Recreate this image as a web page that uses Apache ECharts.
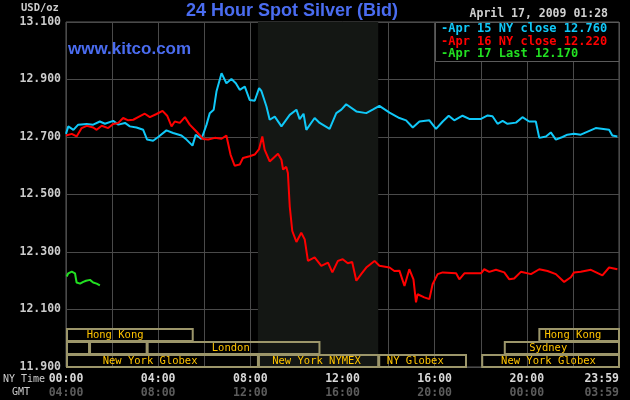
<!DOCTYPE html>
<html>
<head>
<meta charset="utf-8">
<script src="https://cdn.jsdelivr.net/npm/echarts@6/dist/echarts.min.js"></script>
<style>html,body{margin:0;padding:0;background:#000;}#c{width:630px;height:400px;}</style>
</head>
<body>
<div id="c"></div>
<script>
// ---- data (x = hours New York time, y = USD/oz) ----
const apr15 = [[0,12.711],[0.10,12.737],[0.32,12.725],[0.53,12.743],[0.90,12.745],[1.18,12.743],[1.47,12.754],[1.69,12.746],[2.05,12.756],[2.27,12.743],[2.56,12.749],[2.77,12.737],[3.06,12.733],[3.35,12.725],[3.52,12.691],[3.78,12.687],[4.00,12.700],[4.36,12.723],[4.65,12.714],[5.01,12.705],[5.23,12.691],[5.49,12.670],[5.63,12.708],[5.88,12.693],[6.10,12.743],[6.24,12.783],[6.41,12.795],[6.53,12.858],[6.75,12.922],[6.96,12.887],[7.18,12.902],[7.37,12.887],[7.54,12.864],[7.76,12.875],[7.97,12.829],[8.19,12.826],[8.38,12.870],[8.48,12.860],[8.70,12.806],[8.84,12.760],[9.06,12.771],[9.35,12.737],[9.71,12.777],[10.00,12.795],[10.14,12.762],[10.31,12.781],[10.43,12.725],[10.79,12.766],[11.01,12.749],[11.44,12.728],[11.73,12.783],[11.95,12.795],[12.16,12.814],[12.60,12.789],[13.03,12.783],[13.31,12.795],[13.60,12.808],[14.04,12.785],[14.47,12.766],[14.76,12.758],[15.05,12.733],[15.34,12.754],[15.77,12.758],[16.06,12.728],[16.35,12.754],[16.61,12.774],[16.85,12.758],[17.21,12.774],[17.50,12.763],[18.01,12.763],[18.30,12.775],[18.51,12.772],[18.73,12.746],[18.95,12.756],[19.16,12.746],[19.53,12.750],[19.81,12.769],[20.10,12.754],[20.39,12.754],[20.54,12.697],[20.83,12.702],[21.04,12.716],[21.26,12.691],[21.55,12.700],[21.76,12.708],[22.05,12.711],[22.34,12.708],[22.99,12.731],[23.57,12.725],[23.71,12.705],[23.93,12.702]];
const apr16 = [[0,12.705],[0.25,12.711],[0.46,12.702],[0.68,12.731],[0.90,12.739],[1.18,12.733],[1.33,12.725],[1.55,12.739],[1.83,12.731],[2.05,12.745],[2.27,12.749],[2.48,12.766],[2.70,12.758],[2.92,12.760],[3.13,12.769],[3.42,12.781],[3.64,12.769],[3.93,12.780],[4.19,12.791],[4.39,12.774],[4.58,12.737],[4.72,12.754],[4.94,12.749],[5.16,12.769],[5.37,12.743],[5.66,12.719],[5.95,12.693],[6.17,12.691],[6.46,12.697],[6.75,12.694],[6.96,12.705],[7.14,12.639],[7.32,12.600],[7.54,12.604],[7.68,12.627],[7.97,12.633],[8.19,12.639],[8.38,12.658],[8.52,12.702],[8.62,12.656],[8.84,12.615],[9.20,12.642],[9.35,12.621],[9.42,12.587],[9.56,12.596],[9.63,12.575],[9.71,12.459],[9.82,12.373],[10.00,12.335],[10.21,12.367],[10.36,12.344],[10.50,12.269],[10.79,12.281],[11.08,12.252],[11.37,12.263],[11.56,12.229],[11.80,12.269],[12.01,12.275],[12.23,12.261],[12.42,12.265],[12.60,12.200],[12.81,12.223],[13.03,12.246],[13.39,12.269],[13.60,12.252],[14.04,12.246],[14.25,12.234],[14.47,12.235],[14.69,12.182],[14.90,12.240],[15.08,12.205],[15.19,12.125],[15.26,12.153],[15.55,12.142],[15.77,12.136],[15.91,12.188],[16.13,12.223],[16.35,12.229],[16.93,12.226],[17.07,12.205],[17.29,12.226],[18.01,12.226],[18.15,12.240],[18.37,12.231],[18.66,12.238],[19.02,12.229],[19.24,12.205],[19.45,12.208],[19.74,12.231],[20.18,12.223],[20.54,12.240],[20.90,12.234],[21.26,12.223],[21.62,12.196],[21.91,12.212],[22.05,12.229],[22.34,12.231],[22.78,12.238],[23.28,12.219],[23.57,12.246],[23.93,12.240]];
const apr17 = [[0.03,12.215],[0.10,12.226],[0.25,12.232],[0.39,12.226],[0.46,12.194],[0.61,12.190],[0.75,12.196],[0.87,12.200],[1.04,12.203],[1.18,12.194],[1.33,12.190],[1.47,12.184]];
const legendLabels = ['-Apr 15 NY close 12.760', '-Apr 16 NY close 12.220', '-Apr 17 Last 12.170'];
const nymexWindow = [8.33, 13.55];
const sessionRows = ['row1', 'row2', 'row3'];
// [row, start hour, end hour, label, label hour]
const sessions = [
  [0, 0, 5.5, 'Hong Kong', 2.13],
  [0, 20.5, 24, 'Hong Kong', 22.0],
  [1, 0, 1.0, '', 0],
  [1, 1.0, 3.5, '', 0],
  [1, 3.5, 11.0, 'London', 7.15],
  [1, 19.0, 24, 'Sydney', 20.93],
  [2, 0, 8.33, 'New York Globex', 3.65],
  [2, 8.33, 13.55, 'New York NYMEX', 10.87],
  [2, 13.55, 17.36, 'NY Globex', 15.16],
  [2, 18.02, 24, 'New York Globex', 20.94]
];
const yTicks = { min: 11.9, max: 13.1, step: 0.2 };
const gmtOffset = 4;

function hh(h) {
  if (h >= 24) return '23:59';
  return String(h).padStart(2, '0') + ':00';
}
function gmt(h) {
  if (h >= 24) return '03:59';
  return String((h + gmtOffset) % 24).padStart(2, '0') + ':00';
}

const mono = 'DejaVu Sans Mono';
const chart = echarts.init(document.getElementById('c'));
chart.setOption({
  backgroundColor: '#000',
  animation: false,
  grid: [
    { left: 66, right: 11, top: 22, bottom: 33, show: true, borderColor: '#5a5a5a', borderWidth: 1 },
    { left: 66, right: 11, top: 328, bottom: 33, show: false }
  ],
  xAxis: [
    {
      type: 'value', gridIndex: 0, min: 0, max: 24, interval: 2,
      axisLine: { show: false }, axisTick: { show: false },
      splitLine: { show: true, lineStyle: { color: '#4a4a4a', width: 1 } },
      axisLabel: {
        margin: 5, alignMaxLabel: 'right',
        formatter: v => (v % 4 === 0 ? '{a|' + hh(v) + '}\n{b|' + gmt(v) + '}' : ''),
        rich: {
          a: { fontFamily: mono, fontWeight: 'bold', fontSize: 11.5, color: '#d8d8d8', lineHeight: 14 },
          b: { fontFamily: mono, fontWeight: 'bold', fontSize: 11.5, color: '#5c5c5c', lineHeight: 14 }
        }
      }
    },
    { type: 'value', gridIndex: 1, min: 0, max: 24, show: false }
  ],
  yAxis: [
    {
      type: 'value', gridIndex: 0, min: yTicks.min, max: yTicks.max, interval: yTicks.step,
      axisLine: { show: false }, axisTick: { show: false },
      splitLine: { show: true, lineStyle: { color: '#4a4a4a', width: 1 } },
      axisLabel: {
        margin: 5, formatter: v => v.toFixed(3),
        fontFamily: mono, fontWeight: 'bold', fontSize: 11.5, color: '#cccccc'
      }
    },
    { type: 'category', gridIndex: 1, data: sessionRows, show: false, inverse: true }
  ],
  series: [
    {
      type: 'line', name: 'shade', z: -1, data: [], xAxisIndex: 0, yAxisIndex: 0,
      markArea: {
        silent: true,
        itemStyle: { color: '#141714' },
        data: [[{ xAxis: nymexWindow[0] }, { xAxis: nymexWindow[1] }]]
      }
    },
    {
      type: 'line', name: 'Apr 15', data: apr15, showSymbol: false,
      lineStyle: { color: '#10c8f8', width: 2 }, itemStyle: { color: '#10c8f8' }
    },
    {
      type: 'line', name: 'Apr 16', data: apr16, showSymbol: false,
      lineStyle: { color: '#ff0000', width: 2 }, itemStyle: { color: '#ff0000' }
    },
    {
      type: 'line', name: 'Apr 17', data: apr17, showSymbol: false,
      lineStyle: { color: '#22e022', width: 2 }, itemStyle: { color: '#22e022' }
    },
    {
      type: 'custom', xAxisIndex: 1, yAxisIndex: 1, z: 5,
      data: sessions.map(s => [s[1], s[2], s[0], s[4]]),
      renderItem: function (params, api) {
        const s = api.value(0), e = api.value(1), row = api.value(2), lh = api.value(3);
        const label = sessions[params.dataIndex][3];
        const p0 = api.coord([s, row]);
        const p1 = api.coord([e, row]);
        const h = api.size([0, 1])[1];
        const children = [{
          type: 'rect',
          shape: { x: p0[0] + 1, y: p0[1] - h / 2 + 1, width: p1[0] - p0[0] - 1, height: h - 1 },
          style: { fill: 'none', stroke: '#9c966a', lineWidth: 2 }
        }];
        if (label) {
          const pl = api.coord([lh, row]);
          children.push({
            type: 'text',
            style: {
              text: label, x: pl[0], y: pl[1] + 1, align: 'center', verticalAlign: 'middle',
              fill: '#ffc400', font: '10.5px "DejaVu Sans Mono"'
            }
          });
        }
        return { type: 'group', children: children };
      }
    }
  ],
  graphic: [
    { type: 'text', z: 100, left: 186, top: 2, style: { text: '24 Hour Spot Silver (Bid)', fill: '#4a6cf0', font: 'bold 18px "Liberation Sans", Arial, sans-serif' } },
    { type: 'text', z: 100, left: 68, top: 41, style: { text: 'www.kitco.com', fill: '#4a6cf0', font: 'bold 17px "Liberation Sans", Arial, sans-serif' } },
    { type: 'text', z: 100, left: 21, top: 3, style: { text: 'USD/oz', fill: '#cccccc', font: 'bold 10.5px "DejaVu Sans Mono"' } },
    { type: 'text', z: 100, right: 22, top: 8, style: { text: 'April 17, 2009 01:28', fill: '#d0d0d0', font: 'bold 11.5px "DejaVu Sans Mono"' } },
    { type: 'text', z: 100, left: 3, top: 374, style: { text: 'NY Time', fill: '#cccccc', font: '10px "DejaVu Sans Mono"' } },
    { type: 'text', z: 100, left: 12, top: 387, style: { text: 'GMT', fill: '#cccccc', font: '10px "DejaVu Sans Mono"' } },
    { type: 'rect', z: 100, shape: { x: 435.5, y: 22.5, width: 183.5, height: 39 }, style: { fill: '#000', stroke: '#5a5a5a', lineWidth: 1 } },
    { type: 'text', z: 101, left: 441, top: 23, style: { text: legendLabels[0], fill: '#10c8f8', font: 'bold 12px "DejaVu Sans Mono"' } },
    { type: 'text', z: 101, left: 441, top: 36, style: { text: legendLabels[1], fill: '#ff0000', font: 'bold 12px "DejaVu Sans Mono"' } },
    { type: 'text', z: 101, left: 441, top: 48, style: { text: legendLabels[2], fill: '#22e022', font: 'bold 12px "DejaVu Sans Mono"' } }
  ]
});
</script>
</body>
</html>
